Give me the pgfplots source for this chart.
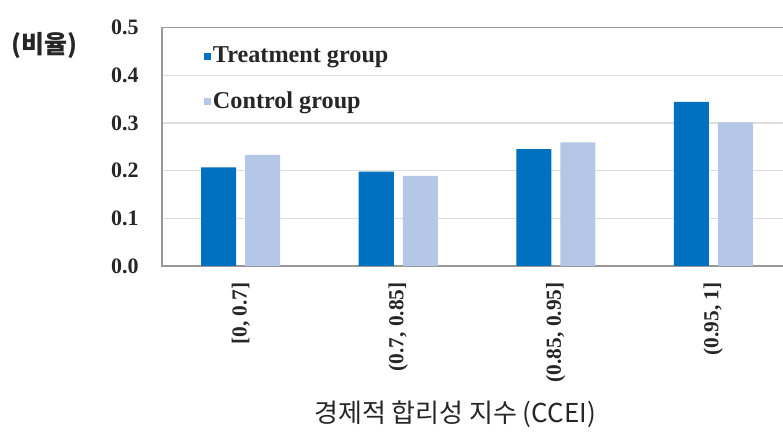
\documentclass[border=0pt]{standalone}
\usepackage{fontspec}
\setmainfont{Liberation Serif}
\newfontfamily\kr{Noto Sans CJK KR}
\usepackage{pgfplots}
\pgfplotsset{compat=1.18}
\definecolor{treat}{HTML}{0070C0}
\definecolor{ctrl}{HTML}{B4C7E7}
\begin{document}
\begin{tikzpicture}
\useasboundingbox (-81bp,-84.5bp) rectangle (310.5bp,133bp);
\begin{axis}[
  at={(0,0)}, anchor=south west,
  scale only axis, width=315bp, height=119.25bp,
  xmin=-0.5, xmax=3.5, ymin=0, ymax=0.5,
  enlarge x limits=false,
  ybar=4.5bp, bar width=17.5bp,
  xtick={0,1,2,3},
  xticklabels={{[0, 0.7]},{(0.7, 0.85]},{(0.85, 0.95]},{(0.95, 1]}},
  ytick={0,0.1,0.2,0.3,0.4,0.5},
  major tick length=0pt,
  /pgf/number format/assume math mode=true,
  yticklabel style={/pgf/number format/.cd, fixed, fixed zerofill, precision=1, /tikz/.cd,
    font=\fontsize{11bp}{13bp}\selectfont\bfseries, inner sep=0pt, xshift=-11.5bp, text=black!85},
  xticklabel style={yshift=-8bp, rotate=90, anchor=east, inner sep=0pt,
    font=\fontsize{10.7bp}{12bp}\selectfont\bfseries, text=black!85},
  ymajorgrids,
  grid style={draw=black!13, line width=0.7bp},
  axis line style={draw=black!40, line width=0.9bp},
  legend style={draw=none, fill=none, at={(0,1)}, anchor=north west,
    xshift=18bp, yshift=-6.6bp, row sep=10.9bp, column sep=0pt,
    font=\fontsize{12.1bp}{13.5bp}\selectfont\bfseries, text=black!85,
    nodes={inner sep=1bp}},
  legend cell align=left,
  legend image code/.code={\fill[#1] (0bp,-1.6bp) rectangle (3.3bp,1.6bp);},
]
\addplot[fill=treat, draw=none] coordinates {(0,0.207) (1,0.198) (2,0.245) (3,0.344)};
\addplot[fill=ctrl, draw=none] coordinates {(0,0.233) (1,0.189) (2,0.259) (3,0.301)};
\legend{Treatment group, Control group}
\end{axis}
\node[font=\kr\bfseries\fontsize{12.5bp}{14bp}\selectfont, text=black!85] at (-58.75bp,110bp) {(비율)};
\node[font=\kr\fontsize{13bp}{15bp}\selectfont, text=black!85] at (146.5bp,-74bp) {경제적 합리성 지수 (CCEI)};
\end{tikzpicture}
\end{document}
